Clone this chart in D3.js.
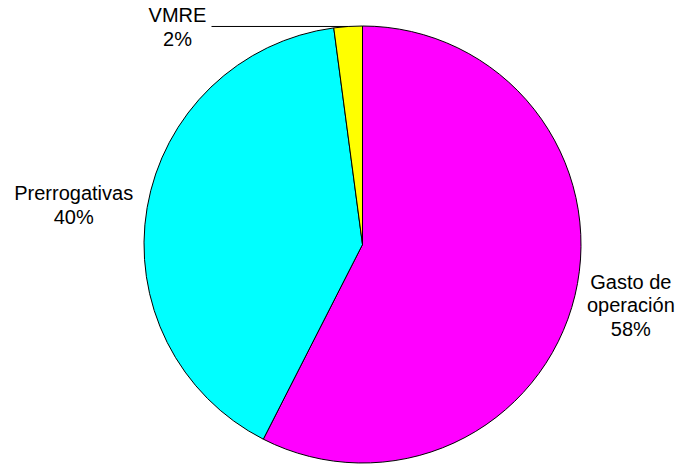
<!DOCTYPE html>
<html>
<head>
<meta charset="utf-8">
<script src="https://cdn.jsdelivr.net/npm/d3@7"></script>
<style>
  body { margin: 0; background: #fff; }
  .slice { stroke: #000; stroke-width: 1; }
  .lbl { font-family: "Liberation Sans", Arial, sans-serif; font-size: 20px; fill: #000; }
  .leader { stroke: #000; stroke-width: 1; }
</style>
</head>
<body>
<script>
// Slices, clockwise from 12 o'clock
var categories = ["Gasto de operación", "Prerrogativas", "VMRE"];
var values = [57.5, 40.4, 2.1];
var pctLabels = ["58%", "40%", "2%"];
var labelLines = [["Gasto de", "operación"], ["Prerrogativas"], ["VMRE"]];
var colors = ["#FF00FF", "#00FFFF", "#FFFF00"];

var w = 679, h = 466;
var cx = 362.5, cy = 244.5, r = 218.5;
var lineH = 23.5;
// label layout per slice: distance from centre and vertical nudge
var labelR = [276, 293];
var labelDy = [-20, 5];

var svg = d3.select("body").append("svg")
    .attr("width", w)
    .attr("height", h);

var g = svg.append("g")
    .attr("transform", "translate(" + cx + "," + cy + ")");

var pie = d3.pie().sort(null).value(function(d) { return d; });
var arcs = pie(values);
var arc = d3.arc().innerRadius(0).outerRadius(r);

g.selectAll("path.slice")
    .data(arcs)
    .enter().append("path")
    .attr("class", "slice")
    .attr("d", arc)
    .attr("fill", function(d, i) { return colors[i]; });

// Labels
arcs.forEach(function(d, i) {
    var mid = (d.startAngle + d.endAngle) / 2;
    var lines = labelLines[i].concat([pctLabels[i]]);
    var lx, y0;
    if (i === 2) {
        // small slice: leader line runs left from the rim
        var px = Math.sin(mid) * r, py = -Math.cos(mid) * r;
        var ex = -151;
        g.append("line")
            .attr("class", "leader")
            .attr("x1", px).attr("y1", py)
            .attr("x2", ex).attr("y2", py);
        lx = ex - 34;
        y0 = py - 4;
    } else {
        lx = Math.sin(mid) * labelR[i];
        y0 = -Math.cos(mid) * labelR[i] + labelDy[i];
    }
    var t = g.append("text")
        .attr("class", "lbl")
        .attr("text-anchor", "middle");
    lines.forEach(function(s, k) {
        t.append("tspan")
            .attr("x", lx)
            .attr("y", y0 + k * lineH)
            .text(s);
    });
});
</script>
</body>
</html>
